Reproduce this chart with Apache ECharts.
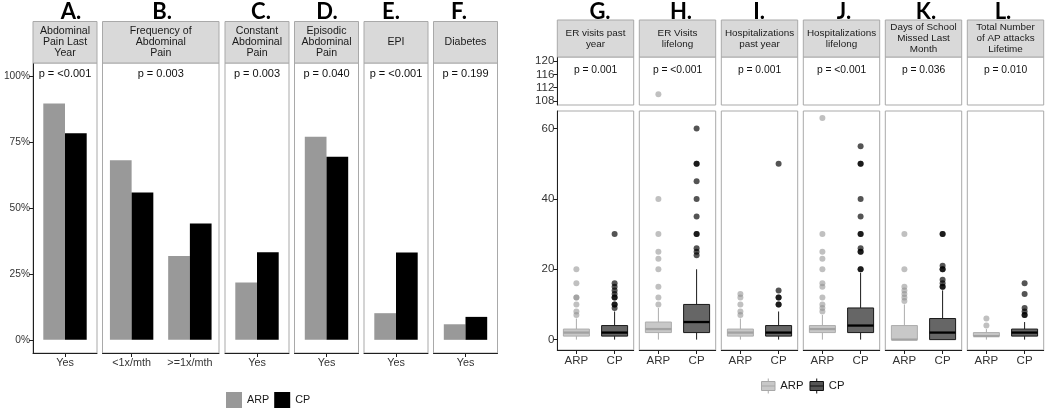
<!DOCTYPE html>
<html><head><meta charset="utf-8">
<script src="https://cdn.jsdelivr.net/npm/echarts@6/dist/echarts.min.js"></script>
<style>html,body{margin:0;padding:0;background:#fff}#c{width:1050px;height:408px}</style>
</head><body><div id="c"></div>
<script>
// ================= DATA =================
const groups = ['ARP', 'CP'];

// Left block: proportions (bar panels A-F)
const barPanelLetters = ['A.', 'B.', 'C.', 'D.', 'E.', 'F.'];
const barPanelTitles = ['Abdominal\nPain Last\nYear', 'Frequency of\nAbdominal\nPain', 'Constant\nAbdominal\nPain', 'Episodic\nAbdominal\nPain', 'EPI', 'Diabetes'];
const barPanelCategories = [['Yes'], ['<1x/mth', '>=1x/mth'], ['Yes'], ['Yes'], ['Yes'], ['Yes']];
const barARP = [[0.896], [0.681, 0.318], [0.217], [0.770], [0.101], [0.059]];
const barCP  = [[0.784], [0.559, 0.441], [0.332], [0.694], [0.331], [0.087]];
const barPValues = ['p = <0.001', 'p = 0.003', 'p = 0.003', 'p = 0.040', 'p = <0.001', 'p = 0.199'];
const pctTicks = [0, 0.25, 0.5, 0.75, 1];

// Right block: boxplots (panels G-L), each [min, Q1, median, Q3, max]
const boxPanelLetters = ['G.', 'H.', 'I.', 'J.', 'K.', 'L.'];
const boxPanelTitles = ['ER visits past\nyear', 'ER Visits\nlifelong', 'Hospitalizations\npast year', 'Hospitalizations\nlifelong', 'Days of School\nMissed Last\nMonth', 'Total Number\nof AP attacks\nLifetime'];
const boxPValues = ['p = 0.001', 'p = <0.001', 'p = 0.001', 'p = <0.001', 'p = 0.036', 'p = 0.010'];
const boxARP = [[0, 1, 2, 3, 6], [0, 2, 3, 5, 9], [0, 1, 2, 3, 6], [0, 2, 3, 4, 7], [0, 0, 0, 4, 10], [0, 1, 1, 2, 3]];
const boxCP  = [[0, 1, 2, 4, 8], [0, 2, 5, 10, 20], [0, 1, 2, 4, 8], [0, 2, 4, 9, 19], [0, 0, 2, 6, 14], [0, 1, 2, 3, 5]];
const outARP = [
  [7, 8, 10, 12, 12, 16, 20],
  [10, 12, 15, 20, 23, 25, 30, 40, 110],
  [7, 8, 10, 12, 13],
  [8, 9, 10, 12, 15, 16, 20, 23, 25, 30, 63],
  [11, 12, 13, 14, 15, 20, 30],
  [4, 6]
];
const outCP = [
  [9, 10, 10, 12, 12, 13, 14, 15, 16, 30],
  [24, 25, 26, 30, 30, 35, 40, 45, 50, 50, 60],
  [10, 10, 12, 12, 14, 50],
  [20, 20, 25, 25, 26, 30, 30, 35, 40, 50, 50, 55],
  [15, 15, 16, 17, 20, 20, 21, 30, 30],
  [7, 7, 8, 9, 13, 16]
];
const lowerTicks = [0, 20, 40, 60];
const upperTicks = [108, 112, 116, 120];
const breakAt = 100;

// ================= LAYOUT / STYLE =================
const FONT = '"Liberation Sans", Arial, sans-serif';
const AX = '#1f1f1f', TXT = '#333333', BORDER = '#a9a9a9', STRIP = '#d9d9d9';
const barLefts = [33, 102.5, 225, 294.5, 364, 433.5];
const barWs = [64, 116.5, 64, 64, 64, 64];
const barLetterX = [71, 162, 261, 327, 391, 459];
const BT = 63, BB = 353, ST = 21.5;
const boxLeft0 = 557.3, boxStep = 82, boxW = 76.4;
const boxLetterX = [600, 681, 759, 844, 926, 1003];
const UT = 57, UB = 105, LT = 111, LB = 350, BST = 20;
const BOX_PX = 26;
const groupStyle = [
  {fill: '#c8c8c8', stroke: '#adadad', median: '#a2a2a2'},
  {fill: '#666666', stroke: '#1a1a1a', median: '#000000'}
];

const grids = [], xAxes = [], yAxes = [], series = [], graphics = [];
function addGrid(left, top, width, height) {
  grids.push({left, top, width, height, show: true, borderColor: BORDER, borderWidth: 1,
    backgroundColor: '#fff', containLabel: false, outerBoundsMode: 'none'});
  return grids.length - 1;
}
function strip(x, y, w, h, text, fs, lh) {
  graphics.push({type: 'rect', shape: {x, y, width: w, height: h}, style: {fill: STRIP, stroke: BORDER, lineWidth: 1}, z: 10});
  graphics.push({type: 'text', x: x + w / 2, y: y + h / 2, style: {text, align: 'center', verticalAlign: 'middle',
    font: fs + 'px ' + FONT, fill: '#1a1a1a', lineHeight: lh}, z: 11});
}
function label(x, y, text, font, fill) {
  graphics.push({type: 'text', x, y, style: {text, align: 'center', verticalAlign: 'middle', font, fill}, z: 11});
}

// ggplot-style boxplot (no whisker caps, thick median) drawn through the axes' scales
function renderBox(params, api) {
  const c = api.value(0);
  const st = groupStyle[c];
  const p = k => api.coord([c, api.value(k)]);
  const pMin = p(1), pQ1 = p(2), pMed = p(3), pQ3 = p(4), pMax = p(5);
  const x = pMin[0], h = BOX_PX / 2;
  return {type: 'group', children: [
    {type: 'line', shape: {x1: x, y1: pMin[1], x2: x, y2: pQ1[1]}, style: {stroke: st.stroke, lineWidth: 1}},
    {type: 'line', shape: {x1: x, y1: pQ3[1], x2: x, y2: pMax[1]}, style: {stroke: st.stroke, lineWidth: 1}},
    {type: 'rect', shape: {x: x - h, y: pQ3[1], width: BOX_PX, height: pQ1[1] - pQ3[1]},
      style: {fill: st.fill, stroke: st.stroke, lineWidth: 1}},
    {type: 'line', shape: {x1: x - h, y1: pMed[1], x2: x + h, y2: pMed[1]}, style: {stroke: st.median, lineWidth: 2.3}}
  ]};
}

// ---- Left: bar panels ----
barPanelTitles.forEach((title, i) => {
  const g = addGrid(barLefts[i], BT, barWs[i], BB - BT);
  xAxes.push({type: 'category', gridIndex: g, data: barPanelCategories[i],
    axisLine: {show: true, onZero: false, lineStyle: {color: AX, width: 1}},
    axisTick: {show: true, alignWithLabel: true, length: 4, lineStyle: {color: AX}},
    axisLabel: {color: TXT, fontSize: 10.8, fontFamily: FONT, margin: 5, interval: 0},
    splitLine: {show: false}});
  yAxes.push({type: 'value', gridIndex: g, min: -0.05, max: 1.05,
    axisLine: {show: i === 0, lineStyle: {color: AX, width: 1}},
    axisTick: {show: i === 0, customValues: pctTicks, length: 4, lineStyle: {color: AX}},
    axisLabel: {show: i === 0, customValues: pctTicks, color: TXT, fontSize: 10.2, fontFamily: FONT, margin: 3,
      formatter: v => Math.round(v * 100) + '%'},
    splitLine: {show: false}});
  series.push({type: 'bar', name: 'ARP', xAxisIndex: g, yAxisIndex: g, data: barARP[i],
    barWidth: 21.7, barGap: '0%', itemStyle: {color: '#999999'}, silent: true});
  series.push({type: 'bar', name: 'CP', xAxisIndex: g, yAxisIndex: g, data: barCP[i],
    barWidth: 21.7, barGap: '0%', itemStyle: {color: '#000000'}, silent: true});
  strip(barLefts[i], ST, barWs[i], BT - ST, title, 10.6, 11);
  label(barLefts[i] + barWs[i] / 2, 74, barPValues[i], '11px ' + FONT, '#111');
  label(barLetterX[i], 12, barPanelLetters[i], 'bold 22px Lato, ' + FONT, '#000');
});

// ---- Right: boxplot panels ----
boxPanelTitles.forEach((title, j) => {
  const left = boxLeft0 + j * boxStep;
  // upper (broken axis) panel
  const gu = addGrid(left, UT, boxW, UB - UT);
  xAxes.push({type: 'category', gridIndex: gu, data: groups, axisLine: {show: false}, axisTick: {show: false},
    axisLabel: {show: false}, splitLine: {show: false}});
  yAxes.push({type: 'value', gridIndex: gu, min: 106.8, max: 121.2,
    axisLine: {show: j === 0, lineStyle: {color: AX, width: 1}},
    axisTick: {show: j === 0, customValues: upperTicks, length: 4, lineStyle: {color: AX}},
    axisLabel: {show: j === 0, customValues: upperTicks, color: TXT, fontSize: 11.5, fontFamily: FONT, margin: 3},
    splitLine: {show: false}});
  // lower panel
  const gl = addGrid(left, LT, boxW, LB - LT);
  xAxes.push({type: 'category', gridIndex: gl, data: groups,
    axisLine: {show: true, onZero: false, lineStyle: {color: AX, width: 1}},
    axisTick: {show: true, alignWithLabel: true, length: 4, lineStyle: {color: AX}},
    axisLabel: {color: TXT, fontSize: 11.5, fontFamily: FONT, margin: 5, interval: 0},
    splitLine: {show: false}});
  yAxes.push({type: 'value', gridIndex: gl, min: -2.95, max: 65,
    axisLine: {show: j === 0, lineStyle: {color: AX, width: 1}},
    axisTick: {show: j === 0, customValues: lowerTicks, length: 4, lineStyle: {color: AX}},
    axisLabel: {show: j === 0, customValues: lowerTicks, color: TXT, fontSize: 11.5, fontFamily: FONT, margin: 3},
    splitLine: {show: false}});

  series.push({type: 'custom', name: 'box' + j, xAxisIndex: gl, yAxisIndex: gl, silent: true, z: 2,
    renderItem: renderBox, encode: {x: 0, y: [1, 2, 3, 4, 5]},
    data: [[0].concat(boxARP[j]), [1].concat(boxCP[j])]});
  // outliers
  const pts = (arr, g) => arr.map(v => [g, v]);
  series.push({type: 'scatter', name: 'outARP' + j, xAxisIndex: gl, yAxisIndex: gl, symbolSize: 6, silent: true, z: 4,
    itemStyle: {color: '#8c8c8c', opacity: 0.55}, data: pts(outARP[j].filter(v => v < breakAt), 'ARP')});
  series.push({type: 'scatter', name: 'outCP' + j, xAxisIndex: gl, yAxisIndex: gl, symbolSize: 6, silent: true, z: 4,
    itemStyle: {color: '#000', opacity: 0.67}, data: pts(outCP[j].filter(v => v < breakAt), 'CP')});
  series.push({type: 'scatter', name: 'outARPhi' + j, xAxisIndex: gu, yAxisIndex: gu, symbolSize: 6, silent: true, z: 4,
    itemStyle: {color: '#8c8c8c', opacity: 0.55}, data: pts(outARP[j].filter(v => v >= breakAt), 'ARP')});
  series.push({type: 'scatter', name: 'outCPhi' + j, xAxisIndex: gu, yAxisIndex: gu, symbolSize: 6, silent: true, z: 4,
    itemStyle: {color: '#000', opacity: 0.67}, data: pts(outCP[j].filter(v => v >= breakAt), 'CP')});

  strip(left, BST, boxW, UT - BST, title, 9.9, 10.8);
  label(left + boxW / 2, 70, boxPValues[j], '10.3px ' + FONT, '#111');
  label(boxLetterX[j], 12, boxPanelLetters[j], 'bold 22px Lato, ' + FONT, '#000');
});

const boxIcon = 'path://M10,0 L10,4 M1,4 L19,4 L19,16 L1,16 Z M1,10 L19,10 M10,16 L10,20';

const option = {
  animation: false,
  backgroundColor: '#fff',
  grid: grids, xAxis: xAxes, yAxis: yAxes, series,
  legend: [
    {left: 226, top: 392, orient: 'horizontal', itemWidth: 16, itemHeight: 16, itemGap: 5, padding: 0,
      selectedMode: false, textStyle: {fontSize: 10.8, fontFamily: FONT, color: '#1a1a1a'},
      data: [{name: 'ARP', icon: 'rect', itemStyle: {color: '#999999', borderWidth: 0}},
             {name: 'CP', icon: 'rect', itemStyle: {color: '#000000', borderWidth: 0}}]},
    {left: 761, top: 378, orient: 'horizontal', itemWidth: 14, itemHeight: 15, itemGap: 6, padding: 0,
      selectedMode: false, textStyle: {fontSize: 11.3, fontFamily: FONT, color: '#1a1a1a'},
      data: [{name: 'ARP', icon: boxIcon, itemStyle: {color: '#c8c8c8', borderColor: '#a8a8a8', borderWidth: 1}},
             {name: 'CP', icon: boxIcon, itemStyle: {color: '#555555', borderColor: '#111111', borderWidth: 1}}]}
  ],
  graphic: graphics
};
const chart = echarts.init(document.getElementById('c'));
chart.setOption(option);
</script>
</body></html>
